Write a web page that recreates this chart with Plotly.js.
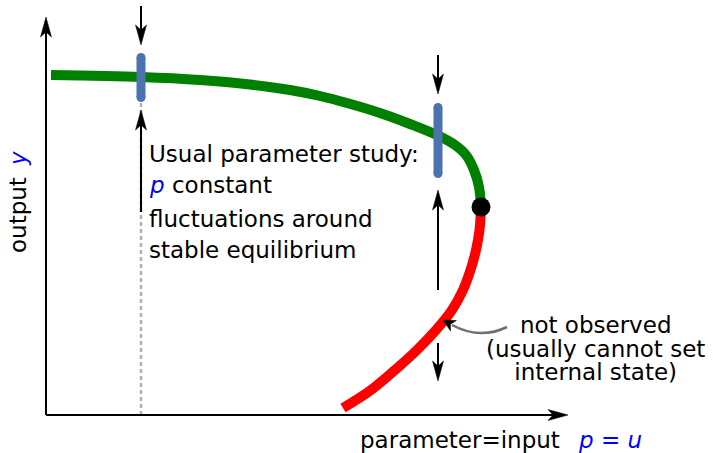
<!DOCTYPE html>
<html><head><meta charset="utf-8">
<script src="https://cdn.plot.ly/plotly-3.0.1.min.js"></script>
<style>html,body{margin:0;padding:0;background:#fff}#chart{width:713px;height:453px}</style>
</head><body><div id="chart"></div>
<script>
// Data units: origin at axis corner, 1 unit = 1 px
const stableP = [5, 95, 154, 204, 244, 274, 301, 334, 364, 393, 409, 420, 428, 433, 435];
const stableY = [340, 338, 335, 330.5, 325, 319, 312, 302, 291, 279, 270, 260, 245, 228, 208];
const unstableP = [435, 433.5, 430, 424.5, 417, 406, 390, 371, 349, 325, 297];
const unstableY = [208, 185, 165, 145, 125, 105, 85, 65, 45, 25, 7];
const foldP = [435];
const foldY = [208];
const studyP = [95, 392];
const barLow = [317.5, 241.5];
const barHigh = [357.5, 307.5];
const dashP = [95, 95];
const dashY = [0, 315];

// arrows: tail -> tip
const arrowTailX = [0, 0, 95, 95, 392, 392, 392];
const arrowTailY = [0, 0, 409, 203, 360, 125, 72];
const arrowTipX  = [0, 522, 95, 95, 392, 392, 392];
const arrowTipY  = [398, 0, 370, 305, 321, 225, 34];

// curved note arrow
const noteStart = [461, 88];
const noteCtrl = [434, 75];
const noteEnd = [406, 90];
const noteTip = [397, 95];

const studyLines = ['Usual parameter study:', '<span style="color:#0000ff"><i>p</i></span> constant', 'fluctuations around', 'stable equilibrium'];
const studyLineY = [261, 230, 196, 165];
const noteLines = ['not observed', '(usually cannot set', 'internal state)'];
const noteCenterY = 67;
const xLabel = 'parameter=input';
const xLabelMath = '<i>p</i> = <i>u</i>';
const yLabel = 'output';
const yLabelMath = '<i>y</i>';

const FONT = 'DejaVu Sans';
const FS = 23;

function head(tip, tail, L, w, notch) {
  const dx = tip[0] - tail[0], dy = tip[1] - tail[1];
  const len = Math.hypot(dx, dy);
  const ux = dx / len, uy = dy / len;
  const nx = -uy, ny = ux;
  const bx = tip[0] - L * ux, by = tip[1] - L * uy;
  const p1 = [bx + w * nx, by + w * ny];
  const p2 = [tip[0] - (L - notch) * ux, tip[1] - (L - notch) * uy];
  const p3 = [bx - w * nx, by - w * ny];
  return {path: `M${tip[0]},${tip[1]} L${p1[0]},${p1[1]} L${p2[0]},${p2[1]} L${p3[0]},${p3[1]} Z`, base: p2};
}

const shapes = [];
for (let i = 0; i < arrowTipX.length; i++) {
  const tip = [arrowTipX[i], arrowTipY[i]], tail = [arrowTailX[i], arrowTailY[i]];
  const h = head(tip, tail, 20, 5.5, 5);
  shapes.push({type: 'line', xref: 'x', yref: 'y', x0: tail[0], y0: tail[1], x1: h.base[0], y1: h.base[1],
    line: {color: '#000', width: 2}});
  shapes.push({type: 'path', xref: 'x', yref: 'y', path: h.path, fillcolor: '#000', line: {color: '#000', width: 0.5}});
}
shapes.push({type: 'path', xref: 'x', yref: 'y',
  path: `M${noteStart[0]},${noteStart[1]} Q${noteCtrl[0]},${noteCtrl[1]} ${noteEnd[0]},${noteEnd[1]}`,
  line: {color: '#707070', width: 2.5}});
const nh = head(noteTip, noteEnd, 12, 6, 3.5);
shapes.push({type: 'path', xref: 'x', yref: 'y', path: nh.path, fillcolor: '#000', line: {color: '#000', width: 0.5}});

const traces = [
  {x: dashP, y: dashY, mode: 'lines', line: {color: '#b0b0b0', width: 2.5, dash: '4px,3px'}, hoverinfo: 'skip'},
  {x: stableP, y: stableY, mode: 'lines', line: {color: '#008000', width: 10, shape: 'spline', smoothing: 1}, hoverinfo: 'skip'},
  {x: unstableP, y: unstableY, mode: 'lines', line: {color: '#ff0000', width: 10, shape: 'spline', smoothing: 1}, hoverinfo: 'skip'}
];
for (let i = 0; i < studyP.length; i++) {
  traces.push({x: [studyP[i], studyP[i]], y: [barLow[i], barHigh[i]], mode: 'lines+markers',
    line: {color: '#4c72b0', width: 9}, marker: {color: '#4c72b0', size: 9, line: {width: 0}}, hoverinfo: 'skip'});
}
traces.push({x: foldP, y: foldY, mode: 'markers', marker: {color: '#000', size: 19, line: {width: 0}}, hoverinfo: 'skip'});

const annotations = [];
studyLines.forEach((t, i) => annotations.push({x: 101, y: studyLineY[i], text: t, xanchor: 'left', yanchor: 'middle', showarrow: false}));
// tight line spacing: line pitch from an 18px base, glyphs drawn at 23px
annotations.push({x: 549, y: noteCenterY,
  text: noteLines.map(t => `<span style="font-size:${FS}px">${t}</span>`).join('<br>'),
  xanchor: 'center', yanchor: 'middle', align: 'center', showarrow: false,
  font: {family: FONT, size: 18.1, color: '#000'}});
annotations.push({x: 312, y: -25, text: xLabel, xanchor: 'left', yanchor: 'middle', showarrow: false});
annotations.push({x: 530, y: -25, text: xLabelMath, xanchor: 'left', yanchor: 'middle', showarrow: false, font: {family: FONT, size: FS, color: '#0000ff'}});
annotations.push({x: -28, y: 200, text: yLabel, textangle: -90, xanchor: 'center', yanchor: 'middle', showarrow: false});
annotations.push({x: -28, y: 256, text: yLabelMath, textangle: -90, xanchor: 'center', yanchor: 'middle', showarrow: false, font: {family: FONT, size: FS, color: '#0000ff'}});

const layout = {
  width: 713, height: 453,
  margin: {l: 0, r: 0, t: 0, b: 0},
  paper_bgcolor: '#fff', plot_bgcolor: '#fff',
  showlegend: false,
  font: {family: FONT, size: FS, color: '#000'},
  xaxis: {range: [-46, 667], visible: false, fixedrange: true},
  yaxis: {range: [-38, 415], visible: false, fixedrange: true},
  shapes: shapes,
  annotations: annotations
};
Plotly.newPlot('chart', traces, layout, {staticPlot: true});
</script></body></html>
